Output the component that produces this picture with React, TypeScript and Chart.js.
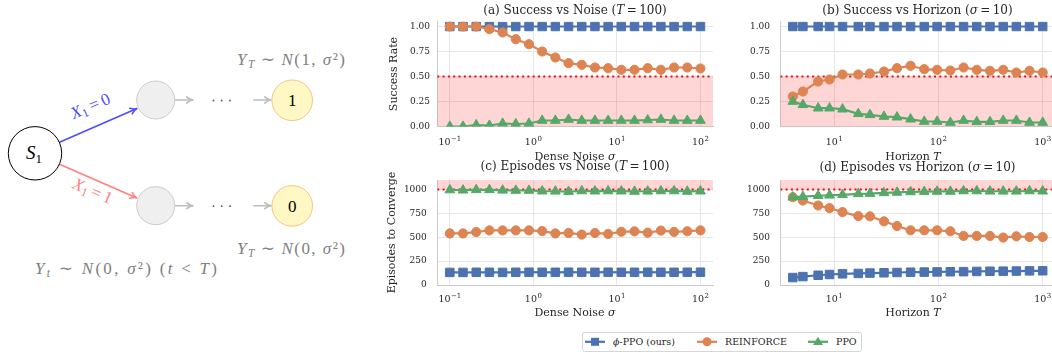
import React, { useEffect, useRef } from "react";
import { Chart, registerables } from "chart.js";
Chart.register(...registerables);

const FONT = '"DejaVu Serif", serif';
const TEXT = "#262626";
const BLUE = "#4C72B0";
const ORANGE = "#DD8452";
const GREEN = "#55A868";
const RED = "#e01010";
const GRID = "#e6e6e6";
const SPINE = "#cccccc";

// ---- data ----
const noiseSigma = [0.1, 0.1438, 0.2069, 0.2976, 0.4281, 0.6158, 0.8859, 1.2743, 1.833, 2.6367, 3.7927, 5.4556, 7.8476, 11.288, 16.238, 23.357, 33.598, 48.329, 69.519, 100];
const horizonT = [4, 5, 7, 9, 12, 17, 22, 30, 40, 54, 73, 97, 130, 174, 233, 312, 418, 559, 747, 1000];

const successNoisePhi = [1, 1, 1, 1, 1, 1, 1, 1, 1, 1, 1, 1, 1, 1, 1, 1, 1, 1, 1, 1];
const successNoiseReinforce = [1.0, 1.0, 1.0, 0.973, 0.94, 0.873, 0.823, 0.75, 0.69, 0.633, 0.617, 0.59, 0.583, 0.567, 0.567, 0.583, 0.567, 0.59, 0.59, 0.58];
const successNoisePPO = [0.0, 0.0, 0.015, 0.01, 0.03, 0.025, 0.03, 0.06, 0.06, 0.07, 0.06, 0.06, 0.06, 0.06, 0.06, 0.065, 0.07, 0.06, 0.06, 0.06];

const successHorizonPhi = [1, 1, 1, 1, 1, 1, 1, 1, 1, 1, 1, 1, 1, 1, 1, 1, 1, 1, 1, 1];
const successHorizonReinforce = [0.3, 0.35, 0.45, 0.47, 0.52, 0.52, 0.53, 0.55, 0.583, 0.607, 0.573, 0.567, 0.56, 0.59, 0.567, 0.557, 0.567, 0.54, 0.557, 0.54];
const successHorizonPPO = [0.25, 0.217, 0.183, 0.183, 0.173, 0.127, 0.117, 0.1, 0.093, 0.073, 0.05, 0.05, 0.04, 0.06, 0.047, 0.047, 0.06, 0.06, 0.04, 0.04];

const episodesNoisePhi = [132, 132, 133, 133, 132, 133, 134, 133, 133, 134, 133, 133, 134, 133, 133, 134, 133, 133, 134, 134];
const episodesNoiseReinforce = [540, 540, 555, 572, 572, 572, 572, 565, 540, 545, 528, 545, 535, 558, 562, 548, 570, 556, 563, 572];
const episodesNoisePPO = [995, 993, 997, 997, 992, 990, 990, 983, 982, 978, 985, 983, 985, 983, 980, 982, 985, 985, 980, 983];

const episodesHorizonPhi = [78, 88, 102, 110, 117, 121, 125, 128, 131, 134, 135, 137, 139, 140, 142, 144, 145, 146, 148, 149];
const episodesHorizonReinforce = [920, 885, 833, 806, 764, 722, 719, 667, 618, 573, 573, 573, 563, 514, 514, 514, 497, 510, 503, 503];
const episodesHorizonPPO = [920, 925, 935, 940, 945, 955, 958, 965, 970, 975, 978, 980, 980, 985, 985, 982, 982, 982, 985, 983];

const xTicksNoise = [0.1, 1, 10, 100];
const xTickExpNoise = ["\u22121", "0", "1", "2"];
const xTicksHorizon = [10, 100, 1000];
const xTickExpHorizon = ["1", "2", "3"];
const yTicksRate = [0, 0.25, 0.5, 0.75, 1.0];
const yTickLabelsRate = ["0.00", "0.25", "0.50", "0.75", "1.00"];
const yTicksEp = [0, 250, 500, 750, 1000];
const yTickLabelsEp = ["0", "250", "500", "750", "1000"];

const rateThreshold = 0.5;
const rateBand = [0, 0.5];
const episodeThreshold = 1000;
const episodeBand = [1000, 1100];

const seriesNames = ["\u03D5-PPO (ours)", "REINFORCE", "PPO"];

type Part = { t: string; it?: boolean };

function drawRich(ctx: CanvasRenderingContext2D, parts: Part[], x: number, y: number, size: number, rot = 0) {
  ctx.save();
  ctx.translate(x, y);
  if (rot) ctx.rotate(rot);
  ctx.textBaseline = "middle";
  ctx.textAlign = "left";
  ctx.fillStyle = TEXT;
  const fontOf = (p: Part) => `${p.it ? "italic " : ""}${size}px ${FONT}`;
  let total = 0;
  const ws = parts.map((p) => {
    ctx.font = fontOf(p);
    const w = ctx.measureText(p.t).width;
    total += w;
    return w;
  });
  let cx = -total / 2;
  parts.forEach((p, i) => {
    ctx.font = fontOf(p);
    ctx.fillText(p.t, cx, 0);
    cx += ws[i];
  });
  ctx.restore();
}

type PanelCfg = {
  left: number; top: number; width: number; height: number;
  area: { l: number; t: number; r: number; b: number };
  xs: number[]; phi: number[]; rf: number[]; ppo: number[];
  xMin: number; xMax: number; xTicks: number[]; xTickExp: string[]; xTickY: number;
  yMin: number; yMax: number; yTicks: number[]; yTickLabels: string[];
  band: number[]; thresh: number;
  title: Part[]; titleX: number; titleY: number;
  xlabel: Part[]; xlabelX: number; xlabelY: number;
  ylabel?: Part[]; ylabelX?: number;
  yPad: number;
};

const panels: PanelCfg[] = [
  {
    left: 380, top: 0, width: 340, height: 166,
    area: { l: 437.3, t: 21.5, r: 713, b: 126.5 },
    xs: noiseSigma, phi: successNoisePhi, rf: successNoiseReinforce, ppo: successNoisePPO,
    xMin: Math.pow(10, -1.15), xMax: Math.pow(10, 2.15), xTicks: xTicksNoise, xTickExp: xTickExpNoise, xTickY: 141.7,
    yMin: 0, yMax: 1.05, yTicks: yTicksRate, yTickLabels: yTickLabelsRate,
    band: rateBand, thresh: rateThreshold,
    title: [{ t: "(a) Success vs Noise (" }, { t: "T", it: true }, { t: "\u2009=\u2009100)" }], titleX: 575, titleY: 11,
    xlabel: [{ t: "Dense Noise " }, { t: "\u03C3", it: true }], xlabelX: 575, xlabelY: 156.7,
    ylabel: [{ t: "Success Rate" }], ylabelX: 394,
    yPad: 7.3,
  },
  {
    left: 720, top: 0, width: 345, height: 166,
    area: { l: 780.3, t: 21.5, r: 1055.2, b: 126.5 },
    xs: horizonT, phi: successHorizonPhi, rf: successHorizonReinforce, ppo: successHorizonPPO,
    xMin: Math.pow(10, 0.482), xMax: Math.pow(10, 3.12), xTicks: xTicksHorizon, xTickExp: xTickExpHorizon, xTickY: 141.7,
    yMin: 0, yMax: 1.05, yTicks: yTicksRate, yTickLabels: yTickLabelsRate,
    band: rateBand, thresh: rateThreshold,
    title: [{ t: "(b) Success vs Horizon (" }, { t: "\u03C3", it: true }, { t: "\u2009=\u200910)" }], titleX: 917.5, titleY: 11,
    xlabel: [{ t: "Horizon " }, { t: "T", it: true }], xlabelX: 913, xlabelY: 156.7,
    yPad: 10.3,
  },
  {
    left: 380, top: 158, width: 340, height: 166,
    area: { l: 437.3, t: 180, r: 713, b: 285 },
    xs: noiseSigma, phi: episodesNoisePhi, rf: episodesNoiseReinforce, ppo: episodesNoisePPO,
    xMin: Math.pow(10, -1.15), xMax: Math.pow(10, 2.15), xTicks: xTicksNoise, xTickExp: xTickExpNoise, xTickY: 298.8,
    yMin: 0, yMax: 1100, yTicks: yTicksEp, yTickLabels: yTickLabelsEp,
    band: episodeBand, thresh: episodeThreshold,
    title: [{ t: "(c) Episodes vs Noise (" }, { t: "T", it: true }, { t: "\u2009=\u2009100)" }], titleX: 575, titleY: 167.3,
    xlabel: [{ t: "Dense Noise " }, { t: "\u03C3", it: true }], xlabelX: 575, xlabelY: 313.3,
    ylabel: [{ t: "Episodes to Converge" }], ylabelX: 392,
    yPad: 10.5,
  },
  {
    left: 720, top: 158, width: 345, height: 166,
    area: { l: 780.3, t: 180, r: 1055.2, b: 285 },
    xs: horizonT, phi: episodesHorizonPhi, rf: episodesHorizonReinforce, ppo: episodesHorizonPPO,
    xMin: Math.pow(10, 0.482), xMax: Math.pow(10, 3.12), xTicks: xTicksHorizon, xTickExp: xTickExpHorizon, xTickY: 298.8,
    yMin: 0, yMax: 1100, yTicks: yTicksEp, yTickLabels: yTickLabelsEp,
    band: episodeBand, thresh: episodeThreshold,
    title: [{ t: "(d) Episodes vs Horizon (" }, { t: "\u03C3", it: true }, { t: "\u2009=\u200910)" }], titleX: 917.5, titleY: 167.5,
    xlabel: [{ t: "Horizon " }, { t: "T", it: true }], xlabelX: 913, xlabelY: 313.3,
    yPad: 10.3,
  },
];

function mkDataset(label: string, xs: number[], ys: number[], color: string, style: any, radius: number, order: number) {
  return {
    label,
    data: xs.map((x, i) => ({ x, y: ys[i] })),
    borderColor: color,
    backgroundColor: color,
    pointBackgroundColor: color,
    pointBorderColor: color,
    pointBorderWidth: 1,
    pointStyle: style,
    pointRadius: radius,
    borderWidth: 2.2,
    tension: 0,
    order,
  };
}

function Panel({ p }: { p: PanelCfg }) {
  const ref = useRef<HTMLCanvasElement>(null);
  useEffect(() => {
    const decor = {
      id: "decor",
      beforeDatasetsDraw(chart: any) {
        const { ctx, chartArea: a, scales } = chart;
        const ys = scales.y;
        ctx.save();
        ctx.beginPath();
        ctx.rect(a.left, a.top, a.right - a.left, a.bottom - a.top);
        ctx.clip();
        const yHi = ys.getPixelForValue(p.band[1]);
        const yLo = ys.getPixelForValue(p.band[0]);
        ctx.fillStyle = "rgba(255,0,0,0.16)";
        ctx.fillRect(a.left, yHi, a.right - a.left, yLo - yHi);
        const yt = ys.getPixelForValue(p.thresh);
        ctx.strokeStyle = RED;
        ctx.lineWidth = 2;
        ctx.setLineDash([2, 3.3]);
        ctx.beginPath();
        ctx.moveTo(a.left, yt);
        ctx.lineTo(a.right, yt);
        ctx.stroke();
        ctx.restore();
      },
      afterDraw(chart: any) {
        const ctx = chart.ctx as CanvasRenderingContext2D;
        drawRich(ctx, p.title, p.titleX - p.left, p.titleY - p.top, 12);
        drawRich(ctx, p.xlabel, p.xlabelX - p.left, p.xlabelY - p.top, 11);
        if (p.ylabel && p.ylabelX !== undefined) {
          const a = chart.chartArea;
          drawRich(ctx, p.ylabel, p.ylabelX - p.left, (a.top + a.bottom) / 2, 11, -Math.PI / 2);
        }
        // x tick labels: 10 with superscript exponent, placed by the x scale
        const xs = chart.scales.x;
        ctx.save();
        ctx.fillStyle = TEXT;
        ctx.textBaseline = "alphabetic";
        ctx.textAlign = "left";
        const baseSize = 9.5;
        const expSize = 7;
        const baseY = p.xTickY - p.top + 3.5;
        p.xTicks.forEach((v, i) => {
          const px = xs.getPixelForValue(v);
          ctx.font = `${baseSize}px ${FONT}`;
          const wb = ctx.measureText("10").width;
          ctx.font = `${expSize}px ${FONT}`;
          const we = ctx.measureText(p.xTickExp[i]).width;
          const x0 = px - (wb + we + 0.5) / 2;
          ctx.font = `${baseSize}px ${FONT}`;
          ctx.fillText("10", x0, baseY);
          ctx.font = `${expSize}px ${FONT}`;
          ctx.fillText(p.xTickExp[i], x0 + wb + 0.5, baseY - 4.2);
        });
        ctx.restore();
      },
    };
    const chart = new Chart(ref.current as HTMLCanvasElement, {
      type: "line",
      data: {
        datasets: [
          mkDataset(seriesNames[0], p.xs, p.phi, BLUE, "rect", 6, 3),
          mkDataset(seriesNames[1], p.xs, p.rf, ORANGE, "circle", 4.6, 2),
          mkDataset(seriesNames[2], p.xs, p.ppo, GREEN, "triangle", 5.6, 1),
        ] as any,
      },
      options: {
        responsive: false,
        animation: false,
        devicePixelRatio: 1,
        layout: {
          padding: { left: 0, top: p.area.t - p.top, right: p.left + p.width - p.area.r, bottom: 0 },
        },
        plugins: { legend: { display: false }, tooltip: { enabled: false }, title: { display: false } },
        scales: {
          x: {
            type: "logarithmic",
            min: p.xMin,
            max: p.xMax,
            afterBuildTicks: (s: any) => {
              s.ticks = p.xTicks.map((v) => ({ value: v }));
            },
            afterFit: (s: any) => {
              s.height = p.top + p.height - p.area.b;
            },
            ticks: { display: false, autoSkip: false, maxRotation: 0, minRotation: 0 },
            grid: { color: GRID, lineWidth: 1, drawTicks: false },
            border: { color: SPINE, width: 1 },
          },
          y: {
            type: "linear",
            min: p.yMin,
            max: p.yMax,
            afterBuildTicks: (s: any) => {
              s.ticks = p.yTicks.map((v) => ({ value: v }));
            },
            afterFit: (s: any) => {
              s.width = p.area.l - p.left;
            },
            ticks: {
              padding: p.yPad,
              color: TEXT,
              font: { family: FONT, size: 9 },
              callback: (_v: any, i: number) => p.yTickLabels[i],
            },
            grid: { color: GRID, lineWidth: 1, drawTicks: false },
            border: { color: SPINE, width: 1 },
          },
        },
      } as any,
      plugins: [decor],
    });
    return () => chart.destroy();
  }, []);
  return (
    <canvas
      ref={ref}
      width={p.width}
      height={p.height}
      style={{ position: "absolute", left: p.left, top: p.top, width: p.width, height: p.height }}
    />
  );
}

function Arrow({ x1, y1, x2, y2, color, w = 1.6 }: { x1: number; y1: number; x2: number; y2: number; color: string; w?: number }) {
  const ang = Math.atan2(y2 - y1, x2 - x1);
  const L = 7;
  const a1 = ang + Math.PI - 0.45;
  const a2 = ang + Math.PI + 0.45;
  const hx1 = x2 + L * Math.cos(a1), hy1 = y2 + L * Math.sin(a1);
  const hx2 = x2 + L * Math.cos(a2), hy2 = y2 + L * Math.sin(a2);
  return (
    <g stroke={color} strokeWidth={w} fill="none" strokeLinecap="round" strokeLinejoin="round">
      <line x1={x1} y1={y1} x2={x2 - 0.5 * Math.cos(ang)} y2={y2 - 0.5 * Math.sin(ang)} />
      <path d={`M${hx1},${hy1} Q${x2 - 2.5 * Math.cos(ang)},${y2 - 2.5 * Math.sin(ang)} ${x2},${y2} Q${x2 - 2.5 * Math.cos(ang)},${y2 - 2.5 * Math.sin(ang)} ${hx2},${hy2}`} />
    </g>
  );
}

const DFONT = '"Liberation Serif", "DejaVu Serif", serif';
const GRAYTXT = "#808080";

function Diagram() {
  const dots = (y: number) => [213.5, 221.7, 230].map((x, i) => <circle key={i} cx={x} cy={y} r={0.9} fill="#555" />);
  return (
    <svg width={1052} height={356} style={{ position: "absolute", left: 0, top: 0 }} fontFamily={DFONT}>
      {/* arrows */}
      <Arrow x1={59.5} y1={142.3} x2={136.8} y2={108.5} color="rgb(77,77,255)" />
      <Arrow x1={59.5} y1={164.3} x2={136.8} y2={198} color="rgb(255,128,128)" />
      <Arrow x1={175.5} y1={100} x2={193} y2={100} color="#bdbdbd" />
      <Arrow x1={254} y1={100} x2={271} y2={100} color="#bdbdbd" />
      <Arrow x1={175.5} y1={205.7} x2={193} y2={205.7} color="#bdbdbd" />
      <Arrow x1={254} y1={205.7} x2={271} y2={205.7} color="#bdbdbd" />
      {dots(100.5)}
      {dots(206.2)}
      {/* nodes */}
      <circle cx={35} cy={153.3} r={26.7} fill="#fff" stroke="#000" strokeWidth={1} />
      <text x={34} y={159} textAnchor="middle" fontSize={19} fill="#000">
        <tspan fontStyle="italic">S</tspan>
        <tspan fontSize={13} dy={3.5}>1</tspan>
      </text>
      <circle cx={155.7} cy={100} r={19} fill="#efefef" stroke="#cccccc" strokeWidth={1} />
      <circle cx={155.7} cy={205.7} r={19} fill="#efefef" stroke="#cccccc" strokeWidth={1} />
      <circle cx={292.2} cy={100.3} r={20.3} fill="#fff8c4" stroke="#f6c489" strokeWidth={1} />
      <circle cx={292.2} cy={205.9} r={20.3} fill="#fff8c4" stroke="#f6c489" strokeWidth={1} />
      <text x={292.2} y={106} textAnchor="middle" fontSize={17} fill="#000">1</text>
      <text x={292.2} y={211.6} textAnchor="middle" fontSize={17} fill="#000">0</text>
      {/* edge labels */}
      <text transform="translate(92.5,111) rotate(-23.5)" textAnchor="middle" fontSize={17} fill="rgb(77,77,255)">
        <tspan fontStyle="italic">X</tspan>
        <tspan fontSize={12} dy={3}>1</tspan>
        <tspan dy={-3}>{"\u2009=\u20090"}</tspan>
      </text>
      <text transform="translate(90.5,196) rotate(23.5)" textAnchor="middle" fontSize={17} fill="rgb(255,128,128)">
        <tspan fontStyle="italic">X</tspan>
        <tspan fontSize={12} dy={3}>1</tspan>
        <tspan dy={-3}>{"\u2009=\u20091"}</tspan>
      </text>
      {/* distribution labels */}
      <text x={291} y={65} textAnchor="middle" fontSize={17} fill={GRAYTXT} textLength={108} lengthAdjust="spacing">
        <tspan fontStyle="italic">Y</tspan>
        <tspan fontSize={11.5} dy={3} fontStyle="italic">T</tspan>
        <tspan dy={-3}>{"\u2009\u223C\u2009"}</tspan>
        <tspan fontStyle="italic">N</tspan>
        <tspan>{"(1, "}</tspan>
        <tspan fontStyle="italic">{"\u03C3"}</tspan>
        <tspan>{"\u00B2)"}</tspan>
      </text>
      <text x={291} y={253.5} textAnchor="middle" fontSize={17} fill={GRAYTXT} textLength={108} lengthAdjust="spacing">
        <tspan fontStyle="italic">Y</tspan>
        <tspan fontSize={11.5} dy={3} fontStyle="italic">T</tspan>
        <tspan dy={-3}>{"\u2009\u223C\u2009"}</tspan>
        <tspan fontStyle="italic">N</tspan>
        <tspan>{"(0, "}</tspan>
        <tspan fontStyle="italic">{"\u03C3"}</tspan>
        <tspan>{"\u00B2)"}</tspan>
      </text>
      <text x={126} y={273.5} textAnchor="middle" fontSize={17} fill={GRAYTXT} textLength={182} lengthAdjust="spacing">
        <tspan fontStyle="italic">Y</tspan>
        <tspan fontSize={11.5} dy={3} fontStyle="italic">t</tspan>
        <tspan dy={-3}>{" \u223C "}</tspan>
        <tspan fontStyle="italic">N</tspan>
        <tspan>{"(0, "}</tspan>
        <tspan fontStyle="italic">{"\u03C3"}</tspan>
        <tspan>{"\u00B2) ("}</tspan>
        <tspan fontStyle="italic">t</tspan>
        <tspan>{" < "}</tspan>
        <tspan fontStyle="italic">T</tspan>
        <tspan>)</tspan>
      </text>
      {/* legend */}
      <rect x={582.5} y={332.5} width={279} height={19} rx={2} fill="#fff" stroke="#d6d6d6" strokeWidth={1} />
      <line x1={585} x2={605} y1={341.8} y2={341.8} stroke={BLUE} strokeWidth={2.2} />
      <rect x={591} y={337.8} width={8} height={8} fill={BLUE} />
      <text x={613} y={345} fontFamily={FONT} fontSize={9.5} fill={TEXT}>
        <tspan fontStyle="italic">{"\u03D5"}</tspan>
        <tspan>-PPO (ours)</tspan>
      </text>
      <line x1={697} x2={717} y1={341.8} y2={341.8} stroke={ORANGE} strokeWidth={2.2} />
      <circle cx={707} cy={341.8} r={4.5} fill={ORANGE} />
      <text x={725} y={345} fontFamily={FONT} fontSize={9.5} fill={TEXT}>REINFORCE</text>
      <line x1={808} x2={828} y1={341.8} y2={341.8} stroke={GREEN} strokeWidth={2.2} />
      <path d="M818,336.8 L823,345 L813,345 Z" fill={GREEN} />
      <text x={836} y={345} fontFamily={FONT} fontSize={9.5} fill={TEXT}>PPO</text>
    </svg>
  );
}

export default function App() {
  return (
    <div style={{ position: "absolute", left: 0, top: 0, width: 1052, height: 356, overflow: "hidden", background: "#fff" }}>
      <Diagram />
      {panels.map((p, i) => (
        <Panel key={i} p={p} />
      ))}
    </div>
  );
}
